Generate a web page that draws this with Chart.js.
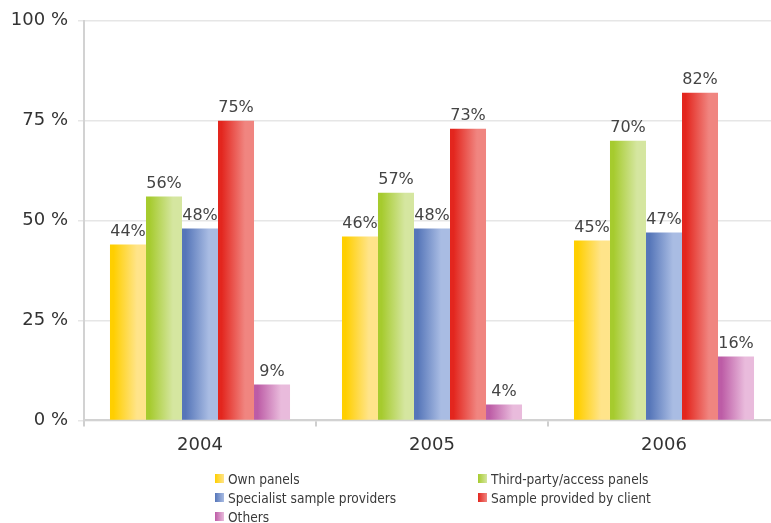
<!DOCTYPE html>
<html>
<head>
<meta charset="utf-8">
<script src="https://cdn.jsdelivr.net/npm/chart.js@4.4.1/dist/chart.umd.min.js"></script>
<style>
  html, body { margin: 0; padding: 0; background: #fff; }
  #wrap { position: relative; width: 771px; height: 523px; overflow: hidden; }
  #chart { position: absolute; left: 0; top: 0; }
  #legend {
    position: absolute; left: 215px; top: 469px;
    display: grid; grid-template-columns: 263px 260px; grid-auto-rows: 19px;
    font-family: "DejaVu Sans Condensed", "DejaVu Sans", sans-serif; font-size: 13.6px; color: #3a3a3a;
  }
  .item { display: flex; align-items: center; white-space: nowrap; }
  .swatch { width: 9px; height: 9px; margin-right: 4px; flex: none; }
</style>
</head>
<body>
<div id="wrap">
  <canvas id="chart" width="800" height="523"></canvas>
  <div id="legend"></div>
</div>
<script>
// Survey years on the x axis
const years = ['2004', '2005', '2006'];

// Share of respondents per sample source (percent)
const ownPanels        = [44, 46, 45];
const thirdPartyPanels = [56, 57, 70];
const specialist       = [48, 48, 47];
const clientSample     = [75, 73, 82];
const others           = [9, 4, 16];

const seriesNames = ['Own panels', 'Third-party/access panels', 'Specialist sample providers',
                     'Sample provided by client', 'Others'];

// Value axis ticks
const yTicks = [0, 25, 50, 75, 100];

// Gradient colours: saturated at the left edge, pale at the right edge
const leftColors  = ['#ffcf00', '#a6cb2e', '#5676b9', '#e3261e', '#bd5ca6'];
const rightColors = ['#ffe48a', '#d5e6a0', '#a9bce3', '#f08580', '#e9bbdc'];

const CAT_PCT = 0.776;
const seriesValues = [ownPanels, thirdPartyPanels, specialist, clientSample, others];

function barFill(ctx) {
  const chart = ctx.chart;
  const xs = chart.scales.x;
  const di = ctx.datasetIndex;
  if (!xs || !chart.chartArea || ctx.dataIndex === undefined) return leftColors[di];
  const catW = xs.width / years.length;
  const groupW = catW * CAT_PCT;
  const barW = groupW / seriesValues.length;
  const left = xs.getPixelForValue(ctx.dataIndex) - groupW / 2 + di * barW;
  const g = chart.ctx.createLinearGradient(left, 0, left + barW, 0);
  g.addColorStop(0, leftColors[di]);
  g.addColorStop(0.1, leftColors[di]);
  g.addColorStop(0.75, rightColors[di]);
  g.addColorStop(1, rightColors[di]);
  return g;
}

// Percentage labels above each bar
const valueLabels = {
  id: 'valueLabels',
  afterDatasetsDraw(chart) {
    const c = chart.ctx;
    c.save();
    c.font = '16px "DejaVu Sans", sans-serif';
    c.fillStyle = '#444';
    c.textAlign = 'center';
    c.textBaseline = 'bottom';
    chart.data.datasets.forEach((ds, di) => {
      chart.getDatasetMeta(di).data.forEach((bar, i) => {
        c.fillText(ds.data[i] + '%', bar.x, bar.y - 5);
      });
    });
    c.restore();
  }
};

const chart = new Chart(document.getElementById('chart'), {
  type: 'bar',
  data: {
    labels: years,
    datasets: seriesValues.map((vals, i) => ({
      label: seriesNames[i],
      data: vals,
      backgroundColor: barFill,
      borderWidth: 0,
      barPercentage: 1,
      categoryPercentage: CAT_PCT
    }))
  },
  options: {
    responsive: false,
    animation: false,
    layout: { padding: { left: 0, right: 20, top: 20, bottom: 59 } },
    plugins: { legend: { display: false }, tooltip: { enabled: false } },
    scales: {
      x: {
        grid: { offset: true, drawOnChartArea: false, drawTicks: true, tickLength: 6, color: '#cfcfcf', lineWidth: 2 },
        border: { color: '#d2d2d2', width: 2 },
        ticks: { font: { family: '"DejaVu Sans", sans-serif', size: 18 }, color: '#333', padding: 8 }
      },
      y: {
        min: 0, max: 100,
        afterBuildTicks(scale) { scale.ticks = yTicks.map(v => ({ value: v })); },
        afterFit(scale) { scale.width = 84; },
        grid: { color: '#e6e6e6', lineWidth: 1.5, tickLength: 6 },
        border: { color: '#d2d2d2', width: 2 },
        ticks: {
          font: { family: '"DejaVu Sans", sans-serif', size: 18 }, color: '#333', padding: 10,
          callback: v => v + ' %'
        }
      }
    }
  },
  plugins: [valueLabels]
});

// Two-column legend under the chart
const legendEl = document.getElementById('legend');
seriesNames.forEach((name, i) => {
  const item = document.createElement('div');
  item.className = 'item';
  const sw = document.createElement('span');
  sw.className = 'swatch';
  sw.style.background = 'linear-gradient(to right, ' + leftColors[i] + ', ' + rightColors[i] + ')';
  const tx = document.createElement('span');
  tx.textContent = name;
  item.appendChild(sw);
  item.appendChild(tx);
  legendEl.appendChild(item);
});
</script>
</body>
</html>
